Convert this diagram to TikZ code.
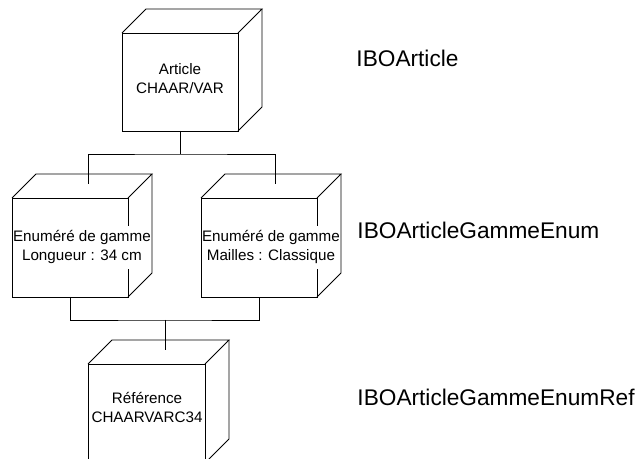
\documentclass[tikz,border=0pt]{standalone}
\usepackage{fontspec}
\setmainfont{Liberation Sans}
\begin{document}
\begin{tikzpicture}[x=0.75pt,y=-0.75pt,line width=0.7pt,
  face/.style={draw,inner sep=0pt,outer sep=0pt,minimum width=87pt,minimum height=74.25pt},
  facetext/.style={inner sep=0pt,align=center,font=\fontsize{11.4}{14.25}\selectfont},
  enumtext/.style={fill=white,inner xsep=0pt,inner ysep=3.5pt,align=center,anchor=base west,font=\fontsize{11.4}{14.25}\selectfont},
  label/.style={inner sep=0pt,anchor=base west,font=\fontsize{17}{20}\selectfont}]
\newcommand\cubeback[1]{%
  \draw (#1.north west) -- ++(24,-24) coordinate (#1-tl)
        -- ([shift={(24,-24)}]#1.north east) coordinate (#1-tr) -- (#1.north east);
  \draw (#1-tr) -- ([shift={(24,-24)}]#1.south east) coordinate (#1-br) -- (#1.south east);}
\clip (0,0) rectangle (640,459);
% front faces
\node[face,minimum height=73.5pt] (art) at (180,82) {};
\node[face] (e1) at (70,247.5) {};
\node[face] (e2) at (259,247.5) {};
\node[face,minimum width=87.75pt] (ref) at (146.5,413.5) {};
% texts (anchored at the baseline of the last line)
\node[facetext,anchor=base] (artT) at (180,94) {Article\\CHAAR/VAR};
\node[enumtext] (e1T) at (12.6,261) {Enuméré de gamme\\Longueur : 34 cm};
\node[enumtext] (e2T) at (201.6,261) {Enuméré de gamme\\Mailles : Classique};
\node[facetext,anchor=base] (refT) at (147,423) {Référence\\CHAARVARC34};
% 3D edges
\cubeback{art}
\cubeback{e1}
\cubeback{e2}
\cubeback{ref}
% connectors
\coordinate (bus1) at (180,154);
\coordinate (e1in) at (88,184);
\coordinate (e2in) at (275,184);
\draw (art.south) -- (bus1);
\draw (e1in) |- (bus1) -| (e2in);
\coordinate (bus2) at (165,320);
\coordinate (refin) at (165,350);
\draw (e1.south) |- (bus2) -| (e2.south);
\draw (bus2) -- (refin);
% labels
\node[label] (l1) at (356,67) {IBOArticle};
\node[label] (l2) at (357,239) {IBOArticleGammeEnum};
\node[label] (l3) at (357,406) {IBOArticleGammeEnumRef};
\end{tikzpicture}
\end{document}
